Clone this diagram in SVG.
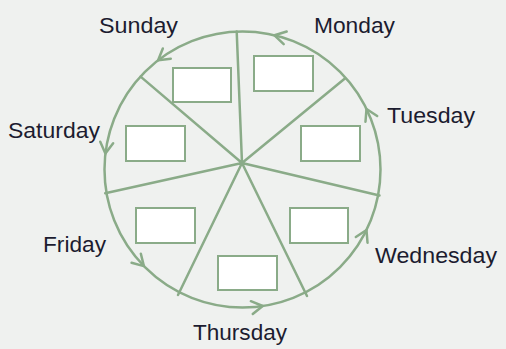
<svg xmlns="http://www.w3.org/2000/svg" xmlns:xlink="http://www.w3.org/1999/xlink" width="506" height="349" viewBox="0 0 506 349">
<style>
.ln{fill:none;stroke:#8aab88;stroke-width:2.5;stroke-linecap:round;stroke-linejoin:round}
.box{fill:#ffffff;stroke:#8aab88;stroke-width:2}
.lbl{font-family:"Liberation Sans",Arial,sans-serif;font-size:22px;fill:#1c1c30}
</style>
<defs>
<path id="chev" d="M-11,-6.5 L0,0 L-11,6.5" class="ln" stroke-width="2"/>
</defs>
<rect width="506" height="349" fill="#eff1ef"/>
<g id="connectors">
<circle cx="242.5" cy="169.5" r="138" class="ln"/>
<path class="ln" d="M242,163 L236.7,31.6 M242,163 L140.6,76.6 M242,163 L345.2,78.3 M242,163 L105.2,193.3 M242,163 L379.5,195.5 M242,163 L178,295 M242,163 L307,296"/>
<use xlink:href="#chev" transform="translate(274.5,35.3) rotate(-166.6)"/>
<use xlink:href="#chev" transform="translate(158.1,60.3) rotate(142.3)"/>
<use xlink:href="#chev" transform="translate(105.4,153.4) rotate(96.7)"/>
<use xlink:href="#chev" transform="translate(143.9,266.1) rotate(45.6)"/>
<use xlink:href="#chev" transform="translate(262.7,306) rotate(-8.4)"/>
<use xlink:href="#chev" transform="translate(366.5,230) rotate(-64)"/>
<use xlink:href="#chev" transform="translate(366.5,109) rotate(-116)"/>
</g>
<g id="sunday"><rect class="box" x="173" y="68" width="58" height="34"/><text class="lbl" x="99" y="33" textLength="79" lengthAdjust="spacingAndGlyphs">Sunday</text></g>
<g id="monday"><rect class="box" x="254" y="56" width="59" height="35"/><text class="lbl" x="314" y="33" textLength="81" lengthAdjust="spacingAndGlyphs">Monday</text></g>
<g id="tuesday"><rect class="box" x="301" y="126" width="59" height="35"/><text class="lbl" x="387" y="123" textLength="88" lengthAdjust="spacingAndGlyphs">Tuesday</text></g>
<g id="wednesday"><rect class="box" x="290" y="208" width="58" height="35"/><text class="lbl" x="375" y="262.5" textLength="122" lengthAdjust="spacingAndGlyphs">Wednesday</text></g>
<g id="thursday"><rect class="box" x="218" y="256" width="59" height="34"/><text class="lbl" x="193" y="340" textLength="94" lengthAdjust="spacingAndGlyphs">Thursday</text></g>
<g id="friday"><rect class="box" x="136" y="208" width="59" height="35"/><text class="lbl" x="43" y="251.5" textLength="63" lengthAdjust="spacingAndGlyphs">Friday</text></g>
<g id="saturday"><rect class="box" x="126" y="126" width="59" height="35"/><text class="lbl" x="8" y="138" textLength="92" lengthAdjust="spacingAndGlyphs">Saturday</text></g>
</svg>
